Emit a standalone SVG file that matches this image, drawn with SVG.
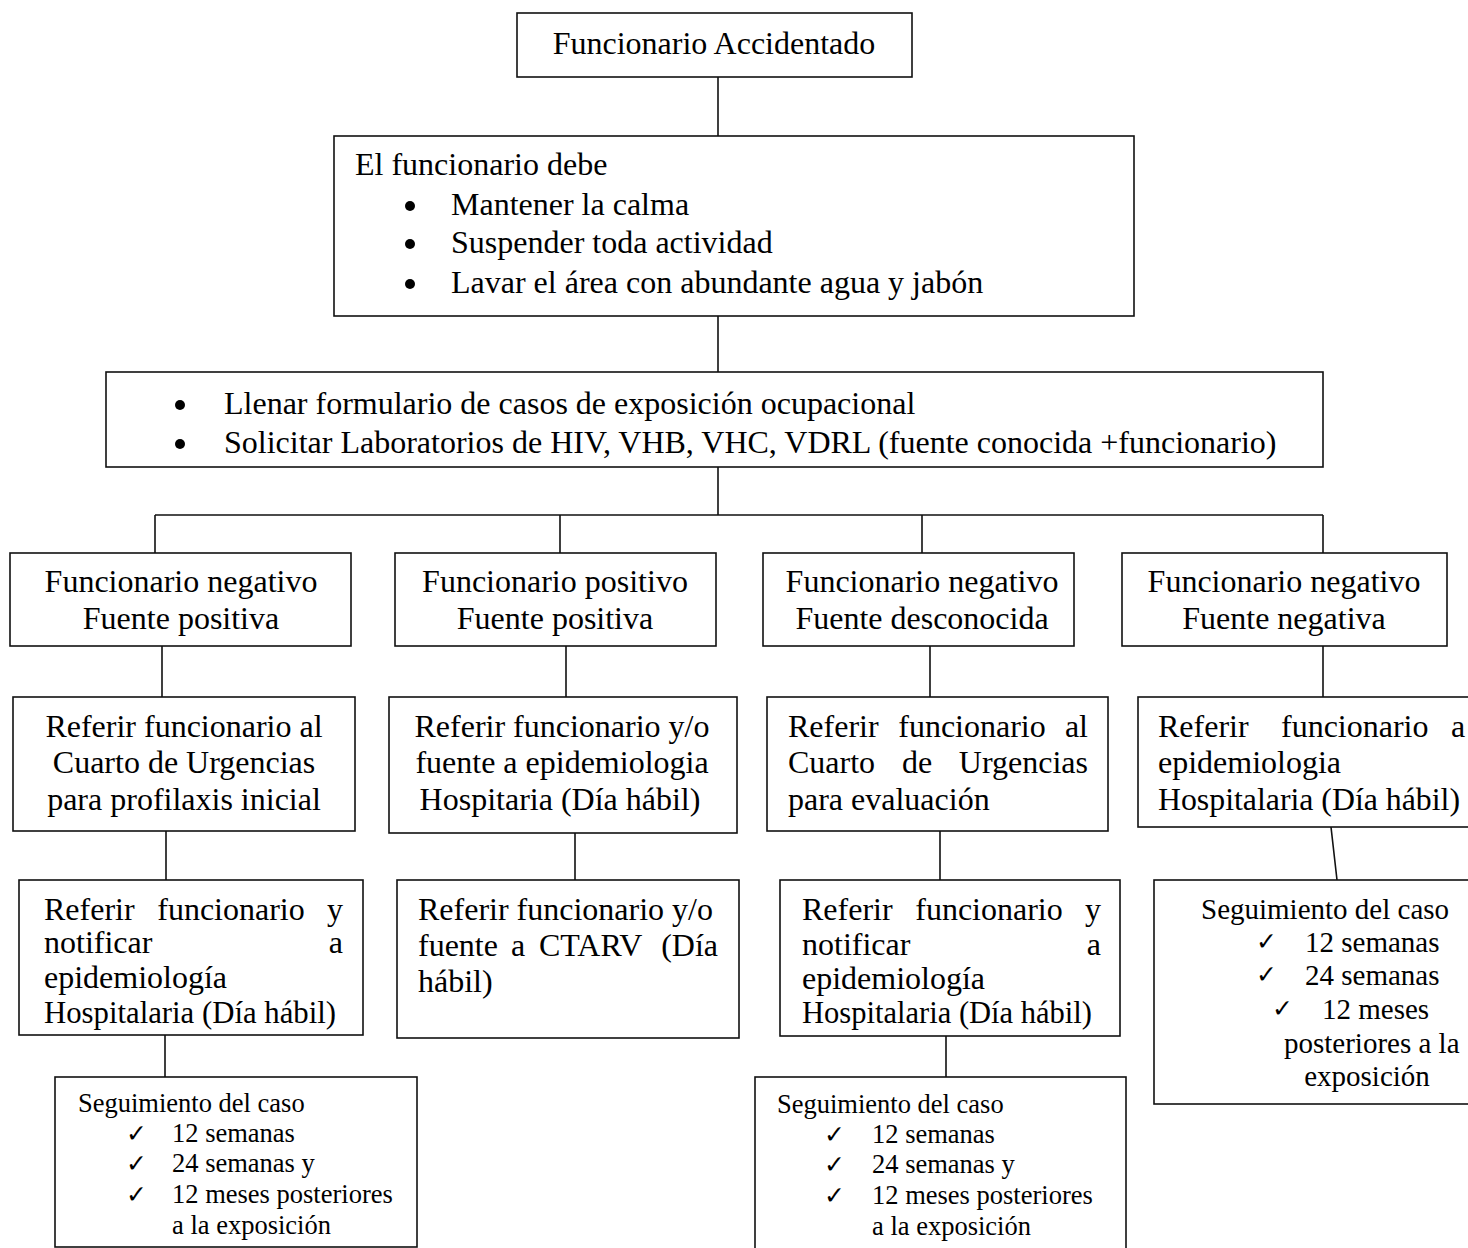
<svg xmlns="http://www.w3.org/2000/svg" width="1468" height="1248" viewBox="0 0 1468 1248">
<style>
.b{fill:#fff;stroke:#111;stroke-width:1.6}
.c{fill:none;stroke:#111;stroke-width:1.6}
.t{font-family:"Liberation Serif","Times New Roman",serif;font-size:32px;fill:#000}
.m{font-size:29px}
.s{font-size:26.5px}
.mid{text-anchor:middle}
.end{text-anchor:end}
.ck{font-family:"DejaVu Sans",sans-serif;font-size:25px;font-weight:bold;fill:#000}
</style>
<rect width="1468" height="1248" fill="#fff"/>
<g id="connectors">
<path class="c" d="M718 77V136M718 316V372M718 467V515M155 515H1323M155 515V553M560 515V553M922 515V553M1323 515V553"/>
<path class="c" d="M162 646V697M566 646V697M930 646V697M1323 646V697"/>
<path class="c" d="M166 831V880M575 833V880M940 831V880M1331 827L1337 880"/>
<path class="c" d="M165 1035V1077M946 1036V1077"/>
</g>
<g id="n1">
<rect class="b" x="517" y="13" width="395" height="64"/>
<text class="t mid" x="714" y="54">Funcionario Accidentado</text>
</g>
<g id="n2">
<rect class="b" x="334" y="136" width="800" height="180"/>
<text class="t" x="355" y="175">El funcionario debe</text>
<circle cx="410" cy="206" r="5"/><circle cx="410" cy="244" r="5"/><circle cx="410" cy="284" r="5"/>
<text class="t" x="451" y="215">Mantener la calma</text>
<text class="t" x="451" y="253">Suspender toda actividad</text>
<text class="t" x="451" y="293">Lavar el área con abundante agua y jabón</text>
</g>
<g id="n3">
<rect class="b" x="106" y="372" width="1217" height="95"/>
<circle cx="180" cy="405" r="5"/><circle cx="180" cy="444" r="5"/>
<text class="t" x="224" y="414">Llenar formulario de casos de exposición ocupacional</text>
<text class="t" x="224" y="453">Solicitar Laboratorios de HIV, VHB, VHC, VDRL (fuente conocida +funcionario)</text>
</g>
<g id="n4a">
<rect class="b" x="10" y="553" width="341" height="93"/>
<text class="t mid" x="181" y="592">Funcionario negativo</text>
<text class="t mid" x="181" y="629">Fuente positiva</text>
</g>
<g id="n4b">
<rect class="b" x="395" y="553" width="321" height="93"/>
<text class="t mid" x="555" y="592">Funcionario positivo</text>
<text class="t mid" x="555" y="629">Fuente positiva</text>
</g>
<g id="n4c">
<rect class="b" x="763" y="553" width="311" height="93"/>
<text class="t mid" x="922" y="592">Funcionario negativo</text>
<text class="t mid" x="922" y="629">Fuente desconocida</text>
</g>
<g id="n4d">
<rect class="b" x="1122" y="553" width="325" height="93"/>
<text class="t mid" x="1284" y="592">Funcionario negativo</text>
<text class="t mid" x="1284" y="629">Fuente negativa</text>
</g>
<g id="n5a">
<rect class="b" x="13" y="697" width="342" height="134"/>
<text class="t mid" x="184" y="737">Referir funcionario al</text>
<text class="t mid" x="184" y="773">Cuarto de Urgencias</text>
<text class="t mid" x="184" y="810">para profilaxis inicial</text>
</g>
<g id="n5b">
<rect class="b" x="389" y="697" width="348" height="136"/>
<text class="t mid" x="562" y="737">Referir funcionario y/o</text>
<text class="t mid" x="562" y="773">fuente a epidemiologia</text>
<text class="t mid" x="560" y="810">Hospitaria (Día hábil)</text>
</g>
<g id="n5c">
<rect class="b" x="767" y="697" width="341" height="134"/>
<text class="t" x="788" y="737">Referir</text>
<text class="t mid" x="972" y="737">funcionario</text>
<text class="t end" x="1088" y="737">al</text>
<text class="t" x="788" y="773">Cuarto</text>
<text class="t mid" x="917" y="773">de</text>
<text class="t end" x="1088" y="773">Urgencias</text>
<text class="t" x="788" y="810">para evaluación</text>
</g>
<g id="n5d">
<rect class="b" x="1138" y="697" width="340" height="130"/>
<text class="t" x="1158" y="737">Referir</text>
<text class="t" x="1281" y="737">funcionario</text>
<text class="t" x="1451" y="737">a</text>
<text class="t" x="1158" y="773">epidemiologia</text>
<text class="t" x="1158" y="810" textLength="302" lengthAdjust="spacingAndGlyphs">Hospitalaria (Día hábil)</text>
</g>
<g id="n6a">
<rect class="b" x="19" y="880" width="344" height="155"/>
<text class="t" x="44" y="920">Referir</text>
<text class="t mid" x="231" y="920">funcionario</text>
<text class="t end" x="343" y="920">y</text>
<text class="t" x="44" y="953">notificar</text>
<text class="t end" x="343" y="953">a</text>
<text class="t" x="44" y="988">epidemiología</text>
<text class="t" x="44" y="1023" textLength="292" lengthAdjust="spacingAndGlyphs">Hospitalaria (Día hábil)</text>
</g>
<g id="n6b">
<rect class="b" x="397" y="880" width="342" height="158"/>
<text class="t" x="418" y="920">Referir funcionario y/o</text>
<text class="t" x="418" y="956">fuente</text>
<text class="t" x="511" y="956">a</text>
<text class="t" x="539" y="956">CTARV</text>
<text class="t end" x="718" y="956">(Día</text>
<text class="t" x="418" y="992">hábil)</text>
</g>
<g id="n6c">
<rect class="b" x="780" y="880" width="340" height="156"/>
<text class="t" x="802" y="920">Referir</text>
<text class="t mid" x="989" y="920">funcionario</text>
<text class="t end" x="1101" y="920">y</text>
<text class="t" x="802" y="955">notificar</text>
<text class="t end" x="1101" y="955">a</text>
<text class="t" x="802" y="989">epidemiología</text>
<text class="t" x="802" y="1023" textLength="290" lengthAdjust="spacingAndGlyphs">Hospitalaria (Día hábil)</text>
</g>
<g id="n6d">
<rect class="b" x="1154" y="880" width="330" height="224"/>
<text class="t m" x="1201" y="919">Seguimiento del caso</text>
<text class="ck" x="1256" y="950">✓</text>
<text class="t m" x="1305" y="952">12 semanas</text>
<text class="ck" x="1256" y="983">✓</text>
<text class="t m" x="1305" y="985">24 semanas</text>
<text class="ck" x="1272" y="1017">✓</text>
<text class="t m" x="1322" y="1019">12 meses</text>
<text class="t m" x="1284" y="1053">posteriores a la</text>
<text class="t m mid" x="1367" y="1086">exposición</text>
</g>
<g id="n7a">
<rect class="b" x="55" y="1077" width="362" height="170"/>
<text class="t s" x="78" y="1112">Seguimiento del caso</text>
<text class="ck" x="126" y="1142">✓</text>
<text class="t s" x="172" y="1142">12 semanas</text>
<text class="ck" x="126" y="1172">✓</text>
<text class="t s" x="172" y="1172">24 semanas y</text>
<text class="ck" x="126" y="1203">✓</text>
<text class="t s" x="172" y="1203">12 meses posteriores</text>
<text class="t s" x="172" y="1234">a la exposición</text>
</g>
<g id="n7c">
<rect class="b" x="755" y="1077" width="371" height="180"/>
<text class="t s" x="777" y="1113">Seguimiento del caso</text>
<text class="ck" x="824" y="1143">✓</text>
<text class="t s" x="872" y="1143">12 semanas</text>
<text class="ck" x="824" y="1173">✓</text>
<text class="t s" x="872" y="1173">24 semanas y</text>
<text class="ck" x="824" y="1204">✓</text>
<text class="t s" x="872" y="1204">12 meses posteriores</text>
<text class="t s" x="872" y="1235">a la exposición</text>
</g>
</svg>
